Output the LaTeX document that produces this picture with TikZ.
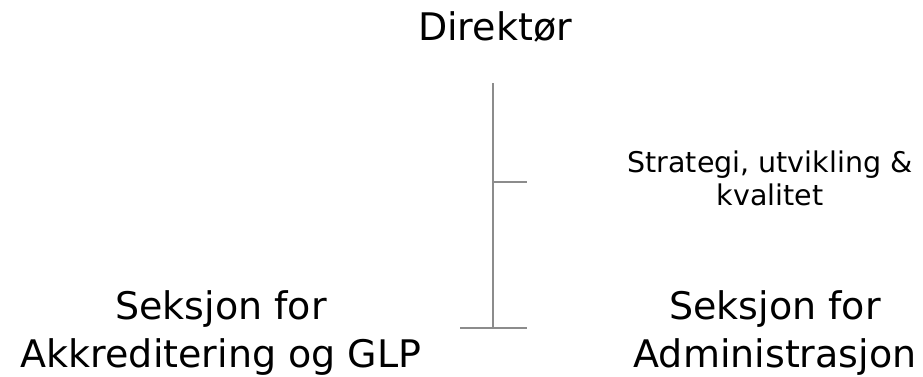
\documentclass[tikz,border=0pt]{standalone}
\usepackage{fontspec}
\setmainfont{DejaVu Sans}
\definecolor{linegray}{HTML}{8C8C8C}
\begin{document}
\begin{tikzpicture}[x=1pt,y=-1pt,
  conn/.style={draw=linegray, line width=2.5pt},
  big/.style={font=\fontsize{38}{48}\selectfont, align=center, inner sep=0pt, anchor=base},
  small/.style={font=\fontsize{28.5}{33}\selectfont, align=center, inner sep=0pt, anchor=base}]
\useasboundingbox (0,0) rectangle (923,376);
\node[big] (dir) at (495,40) {Direktør};
\node[big] (akk) at (221,367) {Seksjon for\\Akkreditering og GLP};
\node[big] (adm) at (775,367) {Seksjon for\\Administrasjon};
\node[small] (sut) at (770,205) {Strategi, utvikling \&\\kvalitet};
\coordinate (top) at (493,83);
\coordinate (mid) at (493,182);
\coordinate (midR) at (527,182);
\coordinate (bot) at (493,328);
\coordinate (botL) at (460,328);
\coordinate (botR) at (527,328);
\draw[conn] (top) -- (bot);
\draw[conn] (mid) -- (midR);
\draw[conn] (botL) -- (botR);
\end{tikzpicture}
\end{document}
